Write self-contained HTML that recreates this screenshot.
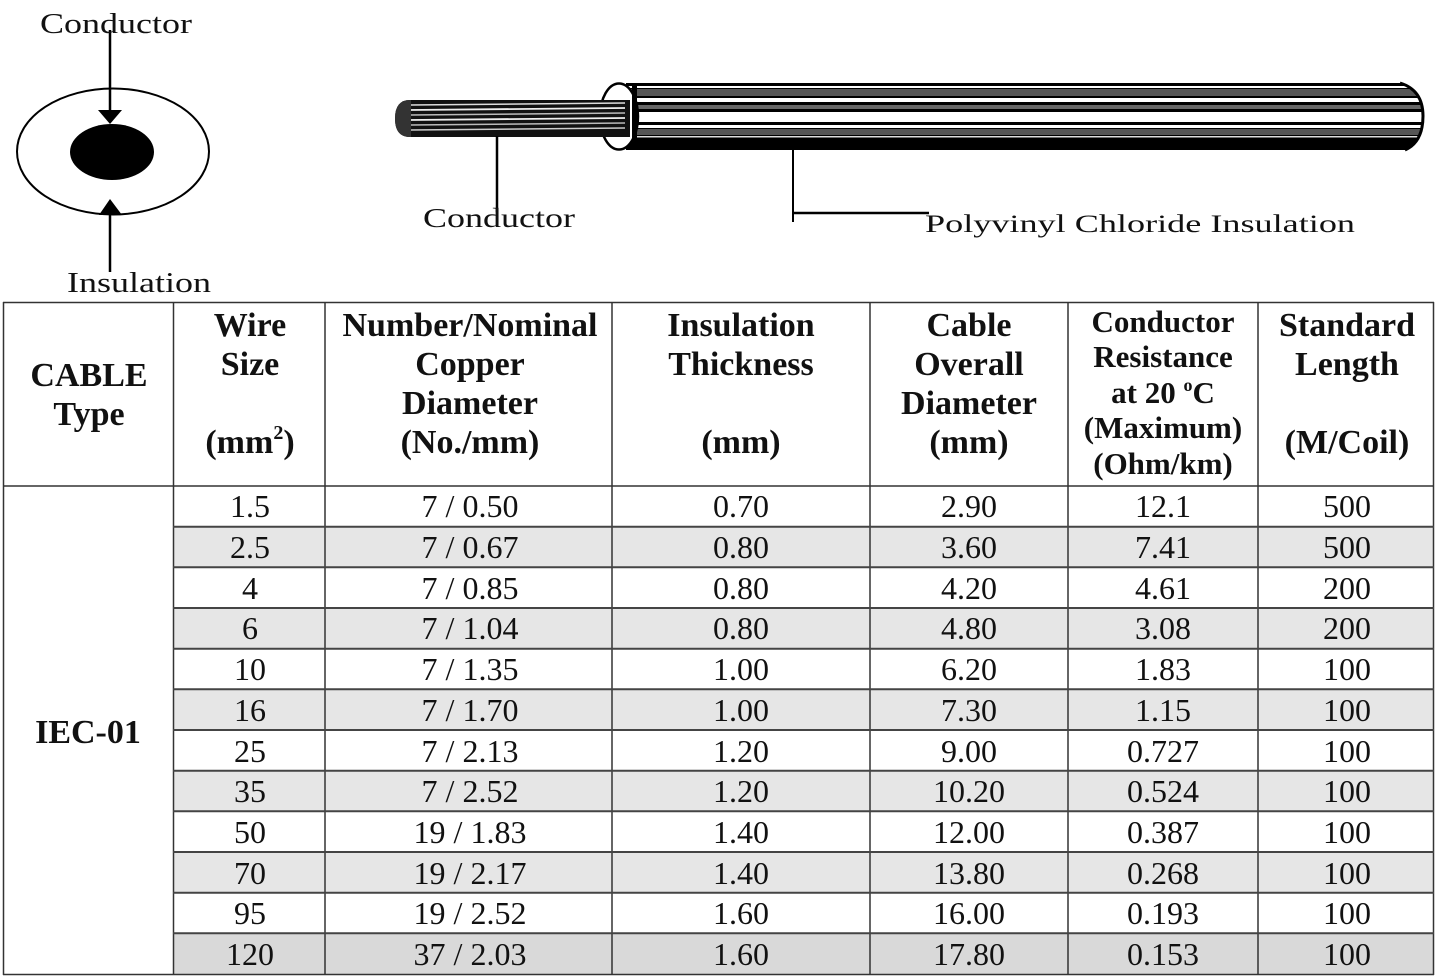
<!DOCTYPE html>
<html>
<head>
<meta charset="utf-8">
<style>
html,body{margin:0;padding:0;background:#fff;}
svg{display:block;}
.lbl{font-family:"Liberation Serif",serif;font-size:28px;fill:#111;}
.h{font-family:"Liberation Serif",serif;font-weight:bold;font-size:34px;fill:#111;text-anchor:middle;}
.hs{font-family:"Liberation Serif",serif;font-weight:bold;font-size:31px;fill:#111;text-anchor:middle;}
.d{font-family:"Liberation Serif",serif;font-size:32px;fill:#111;text-anchor:middle;}
</style>
</head>
<body>
<svg width="1439" height="979" viewBox="0 0 1439 979" xmlns="http://www.w3.org/2000/svg">
<rect x="0" y="0" width="1439" height="979" fill="#fff"/>

<!-- Left cross-section diagram -->
<ellipse cx="113" cy="151.5" rx="96" ry="63" fill="none" stroke="#000" stroke-width="2"/>
<ellipse cx="112" cy="152" rx="42" ry="28" fill="#000"/>
<line x1="110" y1="30" x2="110" y2="112" stroke="#000" stroke-width="2.5"/>
<polygon points="98,110 122,110 110,124" fill="#000"/>
<line x1="110" y1="272" x2="110" y2="212" stroke="#000" stroke-width="2.5"/>
<polygon points="110,199 99,215 122,215" fill="#000"/>
<text class="lbl" x="40" y="33" textLength="152" lengthAdjust="spacingAndGlyphs">Conductor</text>
<text class="lbl" x="67" y="292" textLength="144" lengthAdjust="spacingAndGlyphs">Insulation</text>

<!-- Cable drawing -->
<defs>
<clipPath id="jk">
<path d="M626,83 L1400,83 Q1423,90 1423,116 Q1423,142 1405,150 L626,150 Z"/>
</clipPath>
<clipPath id="cd">
<path d="M410,100 L630,100 L630,137 L410,137 Q395,137 395,118.5 Q395,100 410,100 Z"/>
</clipPath>
</defs>
<g clip-path="url(#jk)">
<rect x="600" y="83" width="830" height="67" fill="#000"/>
<rect x="600" y="86" width="830" height="2" fill="#fff"/>
<rect x="600" y="89" width="830" height="7" fill="#555"/>
<rect x="600" y="98" width="830" height="4" fill="#fff"/>
<rect x="600" y="105" width="830" height="4" fill="#666"/>
<rect x="600" y="112" width="830" height="10" fill="#fff"/>
<rect x="600" y="125" width="830" height="3" fill="#fff"/>
<rect x="600" y="129" width="830" height="6" fill="#555"/>
<rect x="600" y="136" width="830" height="1.5" fill="#ddd"/>
</g>
<path d="M1400,83 Q1423,90 1423,116 Q1423,142 1405,150" fill="none" stroke="#000" stroke-width="3"/>
<ellipse cx="619" cy="116.5" rx="19" ry="33" fill="#fff" stroke="#000" stroke-width="2.5"/>
<rect x="632" y="83" width="5" height="67" fill="#000"/>
<g clip-path="url(#cd)">
<rect x="390" y="100" width="245" height="37" fill="#111"/>
<line x1="410" y1="105" x2="625" y2="103" stroke="#ddd" stroke-width="1.5"/>
<line x1="410" y1="110" x2="625" y2="108" stroke="#eee" stroke-width="1.8"/>
<line x1="410" y1="115" x2="625" y2="113" stroke="#bbb" stroke-width="1.5"/>
<line x1="410" y1="120" x2="625" y2="118" stroke="#eee" stroke-width="1.8"/>
<line x1="410" y1="125" x2="625" y2="123" stroke="#bbb" stroke-width="1.5"/>
<line x1="410" y1="130" x2="625" y2="128" stroke="#ccc" stroke-width="1.5"/>
<rect x="395" y="100" width="16" height="37" fill="#333"/>
</g>
<line x1="497" y1="136" x2="497" y2="212" stroke="#000" stroke-width="2.5"/>
<line x1="793" y1="149" x2="793" y2="222" stroke="#000" stroke-width="2"/>
<line x1="793" y1="213" x2="929" y2="213" stroke="#000" stroke-width="2.5"/>
<text class="lbl" x="423" y="227" textLength="152" lengthAdjust="spacingAndGlyphs" style="font-size:27px">Conductor</text>
<text class="lbl" x="925" y="232" textLength="430" lengthAdjust="spacingAndGlyphs" style="font-size:25px">Polyvinyl Chloride Insulation</text>

<!-- Table shading -->
<rect x="173" y="526.7" width="1261" height="40.6" fill="#e6e6e6"/>
<rect x="173" y="608" width="1261" height="40.7" fill="#e6e6e6"/>
<rect x="173" y="689.3" width="1261" height="40.7" fill="#e6e6e6"/>
<rect x="173" y="770.7" width="1261" height="40.6" fill="#e6e6e6"/>
<rect x="173" y="852" width="1261" height="40.7" fill="#e6e6e6"/>
<rect x="173" y="933.3" width="1261" height="40.7" fill="#d9d9d9"/>

<!-- Table lines -->
<g stroke="#333" stroke-width="1.5">
<line x1="3" y1="302.5" x2="1434" y2="302.5"/>
<line x1="3" y1="486" x2="1434" y2="486"/>
<line x1="3" y1="974.5" x2="1434" y2="974.5"/>
<line x1="3.5" y1="302" x2="3.5" y2="975"/>
<line x1="173.5" y1="302" x2="173.5" y2="975"/>
<line x1="325" y1="302" x2="325" y2="975"/>
<line x1="612" y1="302" x2="612" y2="975"/>
<line x1="870" y1="302" x2="870" y2="975"/>
<line x1="1068" y1="302" x2="1068" y2="975"/>
<line x1="1258" y1="302" x2="1258" y2="975"/>
<line x1="1433.5" y1="302" x2="1433.5" y2="975"/>
</g>
<g stroke="#444" stroke-width="2">
<line x1="173" y1="526.7" x2="1434" y2="526.7"/>
<line x1="173" y1="567.3" x2="1434" y2="567.3"/>
<line x1="173" y1="608" x2="1434" y2="608"/>
<line x1="173" y1="648.7" x2="1434" y2="648.7"/>
<line x1="173" y1="689.3" x2="1434" y2="689.3"/>
<line x1="173" y1="730" x2="1434" y2="730"/>
<line x1="173" y1="770.7" x2="1434" y2="770.7"/>
<line x1="173" y1="811.3" x2="1434" y2="811.3"/>
<line x1="173" y1="852" x2="1434" y2="852"/>
<line x1="173" y1="892.7" x2="1434" y2="892.7"/>
<line x1="173" y1="933.3" x2="1434" y2="933.3"/>
</g>

<!-- Header -->
<text class="h" x="89" y="386">CABLE</text>
<text class="h" x="89" y="425">Type</text>

<text class="h" x="250" y="336">Wire</text>
<text class="h" x="250" y="375">Size</text>
<text class="h" x="250" y="453">(mm<tspan font-size="20" dy="-14">2</tspan><tspan dy="14">)</tspan></text>

<text class="h" x="470" y="336">Number/Nominal</text>
<text class="h" x="470" y="375">Copper</text>
<text class="h" x="470" y="414">Diameter</text>
<text class="h" x="470" y="453">(No./mm)</text>

<text class="h" x="741" y="336">Insulation</text>
<text class="h" x="741" y="375">Thickness</text>
<text class="h" x="741" y="453">(mm)</text>

<text class="h" x="969" y="336">Cable</text>
<text class="h" x="969" y="375">Overall</text>
<text class="h" x="969" y="414">Diameter</text>
<text class="h" x="969" y="453">(mm)</text>

<text class="hs" x="1163" y="332">Conductor</text>
<text class="hs" x="1163" y="367">Resistance</text>
<text class="hs" x="1163" y="403">at 20 <tspan font-size="18" dy="-12">o</tspan><tspan dy="12">C</tspan></text>
<text class="hs" x="1163" y="438">(Maximum)</text>
<text class="hs" x="1163" y="474">(Ohm/km)</text>

<text class="h" x="1347" y="336">Standard</text>
<text class="h" x="1347" y="375">Length</text>
<text class="h" x="1347" y="453">(M/Coil)</text>

<text class="h" x="88" y="743">IEC-01</text>

<!-- Data -->
<g>
<text class="d" x="250" y="517">1.5</text><text class="d" x="470" y="517">7 / 0.50</text><text class="d" x="741" y="517">0.70</text><text class="d" x="969" y="517">2.90</text><text class="d" x="1163" y="517">12.1</text><text class="d" x="1347" y="517">500</text>
<text class="d" x="250" y="558">2.5</text><text class="d" x="470" y="558">7 / 0.67</text><text class="d" x="741" y="558">0.80</text><text class="d" x="969" y="558">3.60</text><text class="d" x="1163" y="558">7.41</text><text class="d" x="1347" y="558">500</text>
<text class="d" x="250" y="599">4</text><text class="d" x="470" y="599">7 / 0.85</text><text class="d" x="741" y="599">0.80</text><text class="d" x="969" y="599">4.20</text><text class="d" x="1163" y="599">4.61</text><text class="d" x="1347" y="599">200</text>
<text class="d" x="250" y="639">6</text><text class="d" x="470" y="639">7 / 1.04</text><text class="d" x="741" y="639">0.80</text><text class="d" x="969" y="639">4.80</text><text class="d" x="1163" y="639">3.08</text><text class="d" x="1347" y="639">200</text>
<text class="d" x="250" y="680">10</text><text class="d" x="470" y="680">7 / 1.35</text><text class="d" x="741" y="680">1.00</text><text class="d" x="969" y="680">6.20</text><text class="d" x="1163" y="680">1.83</text><text class="d" x="1347" y="680">100</text>
<text class="d" x="250" y="721">16</text><text class="d" x="470" y="721">7 / 1.70</text><text class="d" x="741" y="721">1.00</text><text class="d" x="969" y="721">7.30</text><text class="d" x="1163" y="721">1.15</text><text class="d" x="1347" y="721">100</text>
<text class="d" x="250" y="762">25</text><text class="d" x="470" y="762">7 / 2.13</text><text class="d" x="741" y="762">1.20</text><text class="d" x="969" y="762">9.00</text><text class="d" x="1163" y="762">0.727</text><text class="d" x="1347" y="762">100</text>
<text class="d" x="250" y="802">35</text><text class="d" x="470" y="802">7 / 2.52</text><text class="d" x="741" y="802">1.20</text><text class="d" x="969" y="802">10.20</text><text class="d" x="1163" y="802">0.524</text><text class="d" x="1347" y="802">100</text>
<text class="d" x="250" y="843">50</text><text class="d" x="470" y="843">19 / 1.83</text><text class="d" x="741" y="843">1.40</text><text class="d" x="969" y="843">12.00</text><text class="d" x="1163" y="843">0.387</text><text class="d" x="1347" y="843">100</text>
<text class="d" x="250" y="884">70</text><text class="d" x="470" y="884">19 / 2.17</text><text class="d" x="741" y="884">1.40</text><text class="d" x="969" y="884">13.80</text><text class="d" x="1163" y="884">0.268</text><text class="d" x="1347" y="884">100</text>
<text class="d" x="250" y="924">95</text><text class="d" x="470" y="924">19 / 2.52</text><text class="d" x="741" y="924">1.60</text><text class="d" x="969" y="924">16.00</text><text class="d" x="1163" y="924">0.193</text><text class="d" x="1347" y="924">100</text>
<text class="d" x="250" y="965">120</text><text class="d" x="470" y="965">37 / 2.03</text><text class="d" x="741" y="965">1.60</text><text class="d" x="969" y="965">17.80</text><text class="d" x="1163" y="965">0.153</text><text class="d" x="1347" y="965">100</text>
</g>
</svg>
</body>
</html>
